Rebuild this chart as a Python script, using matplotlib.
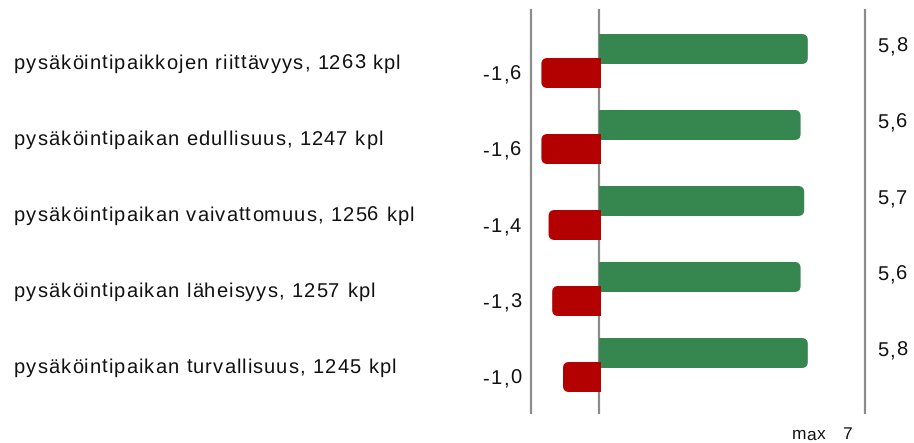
import matplotlib
matplotlib.use("Agg")
import matplotlib.pyplot as plt
from matplotlib.patches import FancyBboxPatch, Rectangle
from matplotlib.font_manager import FontProperties, findfont
from matplotlib.ft2font import FT2Font

plt.rcParams['font.family'] = ['Liberation Sans', 'DejaVu Sans']
plt.rcParams['text.hinting'] = 'no_hinting'

# survey items with number of answers
categories = [
    "pysäköintipaikkojen riittävyys, 1263 kpl",
    "pysäköintipaikan edullisuus, 1247 kpl",
    "pysäköintipaikan vaivattomuus, 1256 kpl",
    "pysäköintipaikan läheisyys, 1257 kpl",
    "pysäköintipaikan turvallisuus, 1245 kpl",
]
positive = [5.8, 5.6, 5.7, 5.6, 5.8]
negative = [-1.6, -1.6, -1.4, -1.3, -1.0]
max_value = 7

GREEN = '#36864f'
RED = '#b30000'
LINE = '#8c8c8c'
TEXT = '#111111'

W, H = 914, 443
DPI = 100
PX_X = 36.0    # pixels per value unit
PX_Y = 76.0    # pixels per category step
ZERO_PX = 599
TOP_PX = 49

fig = plt.figure(figsize=(W / DPI, H / DPI), dpi=DPI)
ax = fig.add_axes([0, 0, 1, 1])
ax.set_xlim(-ZERO_PX / PX_X, (W - ZERO_PX) / PX_X)
ax.set_ylim((H - TOP_PX) / PX_Y, -TOP_PX / PX_Y)
ax.axis('off')

font_file = findfont(FontProperties(family='Liberation Sans'))


def advances(s, size):
    # glyph advances in pixels for the given point size
    ft = FT2Font(font_file)
    ft.set_size(size, DPI)
    return [ft.load_char(ord(c)).linearHoriAdvance / 65536 for c in s]


def tracked_text(x_px, y, s, size, track=1.0, ha='left'):
    # draw text one glyph at a time with extra letter spacing
    adv = advances(s, size)
    total = sum(adv) + track * (len(s) - 1)
    if ha == 'right':
        x_px -= total
    for c, a in zip(s, adv):
        if c != ' ':
            ax.text((x_px - ZERO_PX) / PX_X, y, c, fontsize=size,
                    va='center', ha='left', color=TEXT)
        x_px += a + track


bar_h = 30 / PX_Y
red_off = 24 / PX_Y
r = 6 / PX_X
aspect = PX_X / PX_Y


def rounded_bar(x0, x1, yc, color, square_side):
    # rounded box, with one end squared off by a plain rectangle
    y0 = yc - bar_h / 2
    ax.add_patch(FancyBboxPatch((x0, y0), x1 - x0, bar_h,
                                boxstyle=f"round,pad=0,rounding_size={r}",
                                mutation_aspect=aspect, fc=color, ec='none', zorder=3))
    if square_side == 'left':
        ax.add_patch(Rectangle((x0, y0), 2 * r, bar_h, fc=color, ec='none', zorder=3))
    else:
        ax.add_patch(Rectangle((x1 - 2 * r, y0), 2 * r, bar_h, fc=color, ec='none', zorder=3))


for i, (cat, pos, neg) in enumerate(zip(categories, positive, negative)):
    rounded_bar(0, pos, i, GREEN, 'left')
    rounded_bar(neg, 2 / PX_X, i + red_off, RED, 'right')
    tracked_text(14, i + 0.19, cat, 14.5, track=1.05)
    tracked_text(521, i + red_off + 2 / PX_Y, f"{neg:.1f}".replace('.', ','), 14.5, track=1.3, ha='right')
    tracked_text(877, i - 2 / PX_Y, f"{pos:.1f}".replace('.', ','), 14.5, track=1.3)

# reference lines
y_top = (10 - TOP_PX) / PX_Y
y_bot = (413 - TOP_PX) / PX_Y
for xv in (-68 / PX_X, 0, 266 / PX_X):
    ax.plot([xv, xv], [y_top, y_bot], color=LINE, lw=1.6, zorder=2)

tracked_text(852, (435 - TOP_PX) / PX_Y, f"max   {max_value}", 12.5, track=0.6, ha='right')

fig.savefig('out.png', dpi=DPI)
